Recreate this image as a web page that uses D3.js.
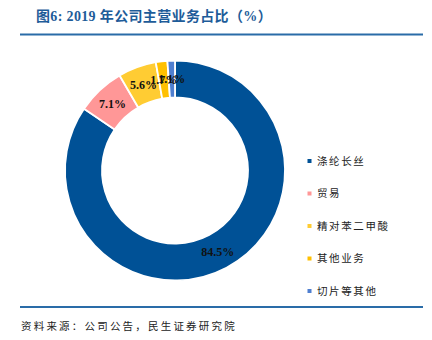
<!DOCTYPE html>
<html>
<head>
<meta charset="utf-8">
<script src="https://cdn.jsdelivr.net/npm/d3@7/dist/d3.min.js"></script>
<style>
  html, body { margin: 0; padding: 0; background: #fff; }
  svg { display: block; }
</style>
</head>
<body>
<svg id="chart" width="432" height="340"></svg>
<script>
// Business segments and their share of 2019 revenue (%)
const categories = ["涤纶长丝", "贸易", "精对苯二甲酸", "其他业务", "切片等其他"];
const shares = [84.5, 7.1, 5.6, 1.7, 1.1];
const colors = ["#005196", "#FF9797", "#FFCC33", "#FFC000", "#4F7FD0"];

const titleText = "图6: 2019 年公司主营业务占比（%）";
const sourceText = "资料来源：公司公告，民生证券研究院";

const svg = d3.select("#chart");

// Header
svg.append("text")
  .attr("x", 36).attr("y", 21)
  .attr("fill", "#1E5C99")
  .attr("font-family", "'Liberation Serif', 'Noto Sans CJK SC', serif")
  .attr("font-weight", "bold")
  .attr("font-size", 14)
  .attr("letter-spacing", 0.35)
  .text(titleText);

svg.append("line")
  .attr("x1", 20).attr("x2", 423)
  .attr("y1", 34.5).attr("y2", 34.5)
  .attr("stroke", "#2A6CA8").attr("stroke-width", 2);

// Donut
const cx = 175, cy = 170.5;
const outerR = 110, innerR = 73;

const pie = d3.pie().sort(null).value(d => d.v);
const arcs = pie(shares.map((v, i) => ({ v, i })));
const arc = d3.arc().innerRadius(innerR).outerRadius(outerR);

const g = svg.append("g").attr("transform", `translate(${cx},${cy})`);

g.selectAll("path.slice")
  .data(arcs)
  .join("path")
  .attr("class", "slice")
  .attr("d", arc)
  .attr("fill", d => colors[d.data.i])
  .attr("stroke", "#fff")
  .attr("stroke-width", 1.8);

g.selectAll("text.val")
  .data(arcs)
  .join("text")
  .attr("class", "val")
  .attr("transform", d => `translate(${arc.centroid(d)})`)
  .attr("text-anchor", "middle")
  .attr("dy", "0.35em")
  .attr("font-family", "'Liberation Serif', 'Times New Roman', serif")
  .attr("font-weight", "bold")
  .attr("font-size", 12)
  .attr("fill", "#111")
  .text(d => d.data.v.toFixed(1) + "%");

// Legend
const legendY = d3.scalePoint()
  .domain(categories)
  .range([161, 291]);

const legend = svg.append("g");
const item = legend.selectAll("g")
  .data(categories)
  .join("g")
  .attr("transform", d => `translate(0,${legendY(d)})`);

item.append("rect")
  .attr("x", 307.5).attr("y", -2)
  .attr("width", 4).attr("height", 4)
  .attr("fill", (d, i) => colors[i]);

item.append("text")
  .attr("x", 317).attr("y", 0)
  .attr("dy", "0.36em")
  .attr("font-family", "'Noto Sans CJK SC', sans-serif")
  .attr("font-size", 10.5)
  .attr("letter-spacing", 1.6)
  .attr("fill", "#222")
  .text(d => d);

// Footer
svg.append("line")
  .attr("x1", 20).attr("x2", 423)
  .attr("y1", 307).attr("y2", 307)
  .attr("stroke", "#2A6CA8").attr("stroke-width", 2);

svg.append("text")
  .attr("x", 21).attr("y", 330)
  .attr("font-family", "'Noto Sans CJK SC', sans-serif")
  .attr("font-size", 10.5)
  .attr("letter-spacing", 2.2)
  .attr("fill", "#222")
  .text(sourceText);
</script>
</body>
</html>
